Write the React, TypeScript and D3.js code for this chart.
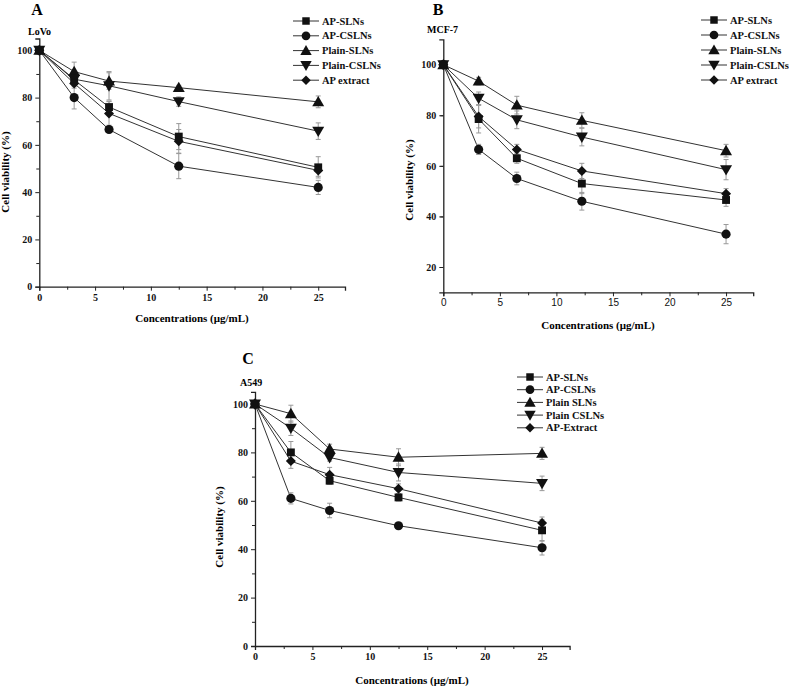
import React, { useEffect, useRef } from "react";
import * as d3 from "d3";

// concentrations (ug/mL) per panel
const concA = [0, 3.125, 6.25, 12.5, 25];
const concB = [0, 3.125, 6.5, 12.25, 25];
const concC = [0, 3.125, 6.5, 12.5, 25];

// A - LoVo
const apSlnsA = [100, 87.5, 76, 63.5, 50.5];
const apCslnsA = [100, 80, 66.5, 51, 42];
const plainSlnsA = [100, 91, 87, 84.2, 78.2];
const plainCslnsA = [100, 87.8, 85, 78.3, 65.8];
const apExtractA = [100, 86, 73.3, 61.5, 49.2];
const errApSlnsA = [0, 1.5, 2.5, 5.5, 4.5];
const errApCslnsA = [0, 4.8, 1, 5.3, 3];
const errPlainSlnsA = [0, 4, 3.5, 1, 2.5];
const errPlainCslnsA = [0, 2, 6, 2, 3.5];
const errApExtractA = [0, 2, 5, 5, 2.5];

// B - MCF-7
const apSlnsB = [100, 78.5, 63, 53, 46.5];
const apCslnsB = [100, 66.5, 55, 46, 33];
const plainSlnsB = [100, 93.5, 84, 78, 66];
const plainCslnsB = [100, 86.7, 78.2, 71.4, 58.5];
const apExtractB = [100, 79.5, 66.5, 58, 49];
const errApSlnsB = [0, 5.5, 2, 4, 2.5];
const errApCslnsB = [0, 2, 2.5, 3.5, 3.8];
const errPlainSlnsB = [0, 1.5, 3.5, 3, 2.5];
const errPlainCslnsB = [0, 2.5, 3.5, 3.5, 4];
const errApExtractB = [0, 4.5, 2, 3, 2];

// C - A549
const apSlnsC = [100, 80, 68.3, 61.4, 47.8];
const apCslnsC = [100, 61, 56, 49.7, 40.6];
const plainSlnsC = [100, 96, 81.4, 78, 79.6];
const plainCslnsC = [100, 90, 77.9, 71.7, 67.2];
const apExtractC = [100, 76.4, 70.8, 65, 50.8];
const errApSlnsC = [0, 4.5, 1.5, 1.5, 4.5];
const errApCslnsC = [0, 2.3, 3, 1, 3];
const errPlainSlnsC = [0, 3.5, 2, 3.5, 2.5];
const errPlainCslnsC = [0, 3, 1.5, 3.5, 3];
const errApExtractC = [0, 3, 3, 2, 2.5];

const namesAB = ["AP-SLNs", "AP-CSLNs", "Plain-SLNs", "Plain-CSLNs", "AP extract"];
const namesC = ["AP-SLNs", "AP-CSLNs", "Plain SLNs", "Plain CSLNs", "AP-Extract"];
const markers = ["square", "circle", "triangle", "triangleDown", "diamond"];

const xTicks = [0, 5, 10, 15, 20, 25];

const serif = "'Liberation Serif', 'Times New Roman', serif";
const sans = "'Liberation Sans', Arial, sans-serif";

type PanelCfg = {
  letter: string;
  cell: string;
  conc: number[];
  series: number[][];
  errors: number[][];
  names: string[];
  xRange: [number, number];
  yDomain: [number, number];
  yRange: [number, number];
  yTicks: number[];
  xTickFont: string;
  xTickBold: boolean;
  letterPos: [number, number];
  cellPos: [number, number];
  yTitlePos: [number, number];
  xTitlePos: [number, number];
  legend: { x: number; y: number; dy: number };
};

const panels: PanelCfg[] = [
  {
    letter: "A", cell: "LoVo", conc: concA,
    series: [apSlnsA, apCslnsA, plainSlnsA, plainCslnsA, apExtractA],
    errors: [errApSlnsA, errApCslnsA, errPlainSlnsA, errPlainCslnsA, errApExtractA],
    names: namesAB,
    xRange: [39.3, 345], yDomain: [0, 105], yRange: [286.7, 38.5],
    yTicks: [0, 20, 40, 60, 80, 100], xTickFont: serif, xTickBold: true,
    letterPos: [37, 15], cellPos: [28, 35], yTitlePos: [9, 172], xTitlePos: [192, 322],
    legend: { x: 293, y: 21, dy: 14.8 },
  },
  {
    letter: "B", cell: "MCF-7", conc: concB,
    series: [apSlnsB, apCslnsB, plainSlnsB, plainCslnsB, apExtractB],
    errors: [errApSlnsB, errApCslnsB, errPlainSlnsB, errPlainCslnsB, errApExtractB],
    names: namesAB,
    xRange: [443.3, 753.2], yDomain: [10, 110], yRange: [292.3, 39.4],
    yTicks: [20, 40, 60, 80, 100], xTickFont: sans, xTickBold: false,
    letterPos: [438, 15], cellPos: [427, 33], yTitlePos: [413, 180], xTitlePos: [598, 329],
    legend: { x: 701, y: 20, dy: 15 },
  },
  {
    letter: "C", cell: "A549", conc: concC,
    series: [apSlnsC, apCslnsC, plainSlnsC, plainCslnsC, apExtractC],
    errors: [errApSlnsC, errApCslnsC, errPlainSlnsC, errPlainCslnsC, errApExtractC],
    names: namesC,
    xRange: [255, 569.6], yDomain: [0, 105], yRange: [646, 391.9],
    yTicks: [0, 20, 40, 60, 80, 100], xTickFont: serif, xTickBold: true,
    letterPos: [248, 364], cellPos: [240, 386], yTitlePos: [223, 527], xTitlePos: [412, 684],
    legend: { x: 517, y: 377, dy: 12.7 },
  },
];

const drawMarker = (
  g: d3.Selection<SVGGElement, unknown, null, undefined>,
  kind: string,
  cx: number,
  cy: number,
  scale = 1
) => {
  let type: d3.SymbolType = d3.symbolSquare;
  let size = 62;
  let rot = 0;
  if (kind === "circle") { type = d3.symbolCircle; size = 66; }
  if (kind === "triangle") { type = d3.symbolTriangle; size = 62; }
  if (kind === "triangleDown") { type = d3.symbolTriangle; size = 62; rot = 180; }
  if (kind === "diamond") { type = d3.symbolSquare; size = 50; rot = 45; }
  const off = kind === "triangle" ? 1 : kind === "triangleDown" ? -1 : 0;
  g.append("path")
    .attr("d", d3.symbol().type(type).size(size * scale * scale)())
    .attr("transform", `translate(${cx},${cy + off}) rotate(${rot})`)
    .attr("fill", "#111");
};

const App: React.FC = () => {
  const ref = useRef<SVGSVGElement>(null);

  useEffect(() => {
    const svg = d3.select(ref.current);
    svg.selectAll("*").remove();

    panels.forEach((p) => {
      const g = svg.append("g");
      const x = d3.scaleLinear().domain([0, 27.4]).range(p.xRange);
      const y = d3.scaleLinear().domain(p.yDomain).range(p.yRange);
      const y0 = p.yRange[0];
      const x0 = p.xRange[0];

      // axes
      const xAxis = d3.axisBottom(x).tickValues(xTicks).tickSize(4).tickFormat(d3.format("d"));
      const xg = g.append("g").attr("transform", `translate(0,${y0})`).call(xAxis);
      xg.select(".domain").attr("stroke", "#222").attr("stroke-width", 1.3);
      xg.selectAll("line").attr("stroke", "#222");
      xg.selectAll("text")
        .attr("font-family", p.xTickFont)
        .attr("font-weight", p.xTickBold ? "bold" : "normal")
        .attr("font-size", 10)
        .attr("fill", "#111");
      const xMinor = d3.axisBottom(x).tickValues([2.5, 7.5, 12.5, 17.5, 22.5]).tickSize(3).tickFormat(() => "");
      const xm = g.append("g").attr("transform", `translate(0,${y0})`).call(xMinor);
      xm.select(".domain").remove();
      xm.selectAll("line").attr("stroke", "#222");

      const yAxis = d3.axisLeft(y).tickValues(p.yTicks).tickSize(4).tickFormat(d3.format("d"));
      const yg = g.append("g").attr("transform", `translate(${x0},0)`).call(yAxis);
      yg.select(".domain").attr("stroke", "#222").attr("stroke-width", 1.3);
      yg.selectAll("line").attr("stroke", "#222");
      yg.selectAll("text")
        .attr("font-family", serif)
        .attr("font-weight", "bold")
        .attr("font-size", 10)
        .attr("fill", "#111");
      const minorY = d3.range(p.yDomain[0] + 10, p.yDomain[1], 20);
      const ym = d3.axisLeft(y).tickValues(minorY).tickSize(3).tickFormat(() => "");
      const ymg = g.append("g").attr("transform", `translate(${x0},0)`).call(ym);
      ymg.select(".domain").remove();
      ymg.selectAll("line").attr("stroke", "#222");

      // lines
      const line = d3.line<number>()
        .x((_, i) => x(p.conc[i]))
        .y((d) => y(d));
      p.series.forEach((s) => {
        g.append("path")
          .attr("d", line(s) as string)
          .attr("fill", "none")
          .attr("stroke", "#333")
          .attr("stroke-width", 1);
      });

      // error bars
      p.series.forEach((s, si) => {
        s.forEach((v, i) => {
          const e = p.errors[si][i];
          if (!e) return;
          const cx = x(p.conc[i]);
          const top = y(v + e);
          const bot = y(v - e);
          g.append("line").attr("x1", cx).attr("x2", cx).attr("y1", top).attr("y2", bot)
            .attr("stroke", "#999").attr("stroke-width", 1);
          [top, bot].forEach((yy) => {
            g.append("line").attr("x1", cx - 2.5).attr("x2", cx + 2.5).attr("y1", yy).attr("y2", yy)
              .attr("stroke", "#999").attr("stroke-width", 1);
          });
        });
      });

      // markers
      p.series.forEach((s, si) => {
        s.forEach((v, i) => drawMarker(g, markers[si], x(p.conc[i]), y(v)));
      });

      // legend
      p.names.forEach((name, i) => {
        const ly = p.legend.y + i * p.legend.dy;
        g.append("line")
          .attr("x1", p.legend.x).attr("x2", p.legend.x + 26)
          .attr("y1", ly).attr("y2", ly)
          .attr("stroke", "#333").attr("stroke-width", 1);
        drawMarker(g, markers[i], p.legend.x + 13, ly, 0.95);
        g.append("text")
          .attr("x", p.legend.x + 29).attr("y", ly + 3.5)
          .attr("font-family", serif).attr("font-weight", "bold").attr("font-size", 10.5)
          .attr("fill", "#111")
          .text(name);
      });

      // titles
      g.append("text")
        .attr("x", p.letterPos[0]).attr("y", p.letterPos[1])
        .attr("text-anchor", "middle")
        .attr("font-family", serif).attr("font-weight", "bold").attr("font-size", 16)
        .text(p.letter);
      g.append("text")
        .attr("x", p.cellPos[0]).attr("y", p.cellPos[1])
        .attr("font-family", serif).attr("font-weight", "bold").attr("font-size", 10)
        .text(p.cell);
      g.append("text")
        .attr("transform", `translate(${p.yTitlePos[0]},${p.yTitlePos[1]}) rotate(-90)`)
        .attr("text-anchor", "middle")
        .attr("font-family", serif).attr("font-weight", "bold").attr("font-size", 11)
        .text("Cell viability (%)");
      g.append("text")
        .attr("x", p.xTitlePos[0]).attr("y", p.xTitlePos[1])
        .attr("text-anchor", "middle")
        .attr("font-family", serif).attr("font-weight", "bold").attr("font-size", 11)
        .text("Concentrations (\u03bcg/mL)");
    });
  }, []);

  return (
    <svg
      ref={ref}
      width={789}
      height={686}
      style={{ position: "absolute", left: 0, top: 0, background: "#fff" }}
    />
  );
};

export default App;
